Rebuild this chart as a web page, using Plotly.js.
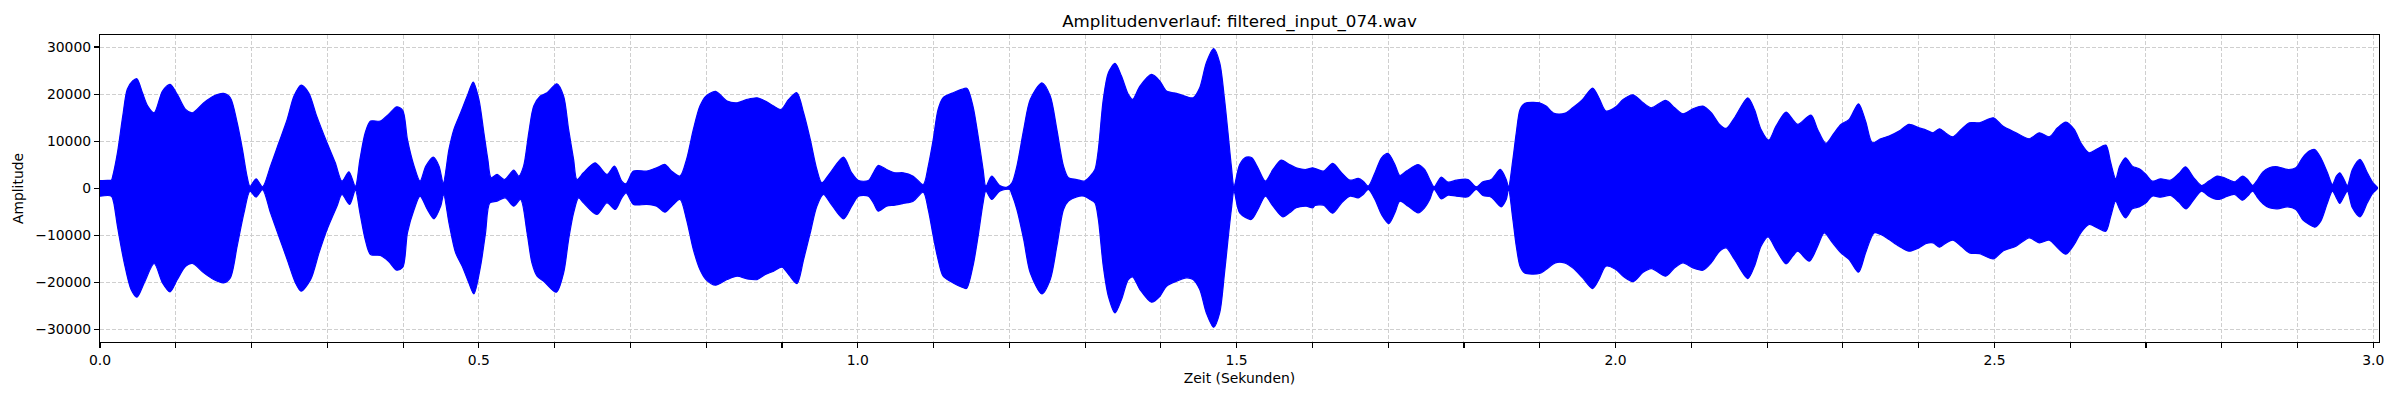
<!DOCTYPE html>
<html>
<head>
<meta charset="utf-8">
<script src="https://cdn.plot.ly/plotly-3.0.1.min.js"></script>
<style>html,body{margin:0;padding:0;background:#fff;}#chart{width:2400px;height:400px;}</style>
</head>
<body>
<div id="chart"></div>
<script>
// Upper envelope of the waveform (seconds, amplitude)
const upperTime = [0.000,0.010,0.015,0.0167,0.023,0.030,0.036,0.043,0.0487,0.056,0.063,0.0715,0.0825,0.0925,0.102,0.113,0.122,0.137,0.150,0.163,0.172,0.181,0.188,0.194,0.198,0.206,0.2145,0.225,0.236,0.247,0.256,0.2654,0.2754,0.286,0.2996,0.3105,0.3193,0.3285,0.337,0.343,0.350,0.357,0.370,0.3807,0.3917,0.3996,0.4057,0.4145,0.4224,0.430,0.440,0.4474,0.453,0.4605,0.467,0.4759,0.4846,0.4925,0.500,0.5066,0.5118,0.5162,0.524,0.5338,0.546,0.5526,0.559,0.5658,0.5724,0.5811,0.590,0.603,0.6118,0.6184,0.625,0.6294,0.638,0.6535,0.6689,0.679,0.6886,0.694,0.704,0.7215,0.7346,0.7456,0.7544,0.7654,0.774,0.783,0.7917,0.7996,0.8123,0.8276,0.8408,0.854,0.867,0.878,0.889,0.8987,0.9088,0.9197,0.9285,0.9373,0.946,0.9526,0.9636,0.9811,0.992,1.0009,1.014,1.0206,1.027,1.038,1.049,1.060,1.0732,1.0864,1.093,1.0996,1.106,1.1127,1.1259,1.1368,1.1443,1.152,1.1588,1.1654,1.169,1.1768,1.1873,1.197,1.2035,1.21,1.219,1.2276,1.243,1.254,1.2627,1.2715,1.278,1.289,1.2987,1.3066,1.313,1.3175,1.324,1.3307,1.3395,1.348,1.357,1.3627,1.3724,1.3877,1.3987,1.4075,1.4206,1.4316,1.4425,1.4513,1.460,1.4697,1.4776,1.484,1.4886,1.493,1.4965,1.504,1.5127,1.520,1.528,1.538,1.548,1.5588,1.5697,1.5785,1.5917,1.6004,1.6145,1.6268,1.6386,1.6496,1.6605,1.667,1.6737,1.6825,1.6912,1.700,1.7088,1.7154,1.724,1.7395,1.748,1.7548,1.7605,1.770,1.779,1.790,1.8053,1.8162,1.825,1.836,1.848,1.8557,1.8588,1.8645,1.869,1.874,1.880,1.8996,1.9083,1.919,1.9325,1.9434,1.9566,1.9697,1.978,1.9873,2.0004,2.010,2.0232,2.0364,2.0474,2.0662,2.078,2.089,2.1022,2.1154,2.1263,2.1373,2.146,2.157,2.1746,2.1833,2.192,2.2022,2.2118,2.225,2.2338,2.2404,2.2579,2.2667,2.2776,2.2886,2.2974,2.3083,2.3206,2.330,2.339,2.350,2.361,2.3741,2.3873,2.4004,2.410,2.419,2.4276,2.4364,2.445,2.4561,2.467,2.4803,2.4987,2.511,2.5285,2.546,2.5592,2.5724,2.5833,2.5943,2.6053,2.614,2.625,2.636,2.647,2.6535,2.660,2.6654,2.673,2.682,2.691,2.700,2.7083,2.7193,2.7325,2.7434,2.7522,2.7632,2.7732,2.783,2.7939,2.8004,2.8057,2.8167,2.8276,2.834,2.8408,2.8474,2.854,2.8627,2.8737,2.8868,2.8978,2.9066,2.9154,2.9228,2.9307,2.9395,2.946,2.9513,2.9557,2.9614,2.9658,2.9724,2.9825,2.9921,2.9996,3.0053];
const upperAmp = [1600,1650,1700,2500,7500,15300,21000,22760,23250,20280,17440,16020,20630,22050,19920,16730,16020,18150,19570,20140,19210,13900,8220,2550,400,1990,300,4680,9640,14600,19570,21900,20280,15300,9640,5390,1490,3470,400,6100,11770,14250,14250,15670,17300,16500,10350,4680,1490,4680,6590,4680,1130,8220,12480,16020,19570,22550,18860,11770,6100,2200,2910,1840,3830,2550,4680,11770,17440,19570,20280,22190,19570,12480,6100,1840,3260,5390,2910,4680,1490,920,3620,3620,4330,5030,3620,2550,6100,12480,17440,19570,20560,18500,18150,18860,19210,18500,17440,16730,18860,20280,16020,10350,3970,1130,3260,6590,3260,1630,1630,3260,4820,3970,3260,3260,2550,780,4680,10350,16730,19210,20280,20990,21200,17440,11060,3970,430,2550,570,210,1130,4680,12480,18860,22400,19570,12480,4680,2200,1840,1490,2550,3970,8220,18860,24530,26520,23820,19920,18860,21700,24180,22760,20630,20140,19570,19210,21340,26660,29640,26660,18860,11770,4680,430,5030,6590,6450,4330,1490,3970,5960,5030,4330,3970,4330,3620,5250,3260,1700,2060,1490,430,3260,6450,7370,5030,2690,3620,5030,3970,1840,280,2340,1280,1700,1840,280,1350,1840,3970,1840,280,6100,11770,16730,18010,18150,17440,15880,15880,17090,18860,21270,19210,16380,17300,18860,19850,18150,17090,18650,17090,15810,16870,17440,16020,13540,12690,14960,19210,16730,12480,10210,13190,16170,14610,13540,15530,12480,9500,11770,13540,14610,17940,14250,9640,10490,11060,12120,13540,12830,12340,11770,12620,11630,10920,12480,13900,13900,14960,13190,11770,10490,11770,10920,12830,14040,12480,9640,7520,8370,9150,5390,1990,4680,6450,4680,4110,2910,1490,1990,1700,3120,4540,2200,570,1490,2550,2340,2060,1350,2550,1840,570,1840,3400,4330,4540,3970,4330,6450,7870,8220,6450,3260,780,2550,3260,1840,570,3970,6100,3260,1130,210];

// Lower envelope of the waveform (seconds, amplitude)
const lowerTime = [0.000,0.015,0.018,0.023,0.032,0.041,0.0487,0.0583,0.0715,0.0825,0.0925,0.102,0.113,0.122,0.137,0.150,0.163,0.172,0.181,0.190,0.198,0.206,0.2145,0.225,0.236,0.247,0.258,0.2654,0.278,0.289,0.2996,0.3127,0.3193,0.3294,0.337,0.343,0.350,0.357,0.370,0.3807,0.3917,0.3996,0.4057,0.4145,0.4224,0.432,0.4408,0.4496,0.4535,0.4605,0.4693,0.478,0.4868,0.4934,0.5022,0.5088,0.5145,0.524,0.5347,0.546,0.555,0.5636,0.570,0.5768,0.5855,0.6022,0.6118,0.6184,0.625,0.6316,0.638,0.6557,0.669,0.680,0.6886,0.6943,0.704,0.7215,0.7346,0.7456,0.7544,0.7654,0.774,0.783,0.7917,0.7996,0.8123,0.8276,0.8408,0.854,0.867,0.878,0.889,0.900,0.9088,0.9197,0.9285,0.9373,0.946,0.9548,0.9636,0.9811,0.992,1.0009,1.014,1.0206,1.027,1.038,1.049,1.060,1.0732,1.0864,1.093,1.0996,1.106,1.1127,1.1259,1.1368,1.1434,1.152,1.1588,1.1654,1.169,1.1768,1.1873,1.2004,1.2035,1.21,1.219,1.2276,1.243,1.254,1.2627,1.2715,1.278,1.289,1.2987,1.3066,1.313,1.3175,1.324,1.3307,1.3395,1.348,1.357,1.3627,1.3724,1.3877,1.3987,1.4075,1.4206,1.4338,1.4425,1.4513,1.460,1.4697,1.4776,1.484,1.4886,1.493,1.4965,1.504,1.5193,1.528,1.538,1.548,1.561,1.5697,1.5785,1.5917,1.6004,1.6035,1.6145,1.6268,1.6386,1.6496,1.6605,1.667,1.6737,1.6825,1.6912,1.7009,1.7088,1.7154,1.7263,1.7395,1.748,1.7548,1.7605,1.770,1.779,1.790,1.8053,1.8162,1.825,1.836,1.849,1.8557,1.8588,1.8645,1.869,1.874,1.880,1.8996,1.9083,1.9206,1.9325,1.9434,1.9566,1.9697,1.978,1.9873,2.0004,2.010,2.0232,2.0364,2.0474,2.0662,2.078,2.089,2.1022,2.1154,2.1263,2.1373,2.146,2.157,2.1746,2.1833,2.192,2.2013,2.2118,2.225,2.2338,2.2404,2.2557,2.2667,2.2754,2.2864,2.2974,2.3083,2.3206,2.330,2.3412,2.350,2.361,2.3741,2.3873,2.4004,2.410,2.419,2.4276,2.4364,2.445,2.4561,2.467,2.4803,2.4987,2.511,2.5285,2.546,2.5592,2.5724,2.5833,2.5943,2.6053,2.614,2.625,2.636,2.647,2.6535,2.660,2.6654,2.673,2.682,2.691,2.700,2.7083,2.7193,2.7325,2.7434,2.753,2.7632,2.7732,2.783,2.7939,2.8004,2.8057,2.8167,2.8276,2.834,2.8408,2.8474,2.854,2.8627,2.8737,2.8868,2.8978,2.9066,2.9154,2.9228,2.9307,2.9395,2.946,2.9513,2.9557,2.9614,2.9658,2.9724,2.9825,2.9921,2.9996,3.0053];
const lowerAmp = [-1700,-1700,-3000,-8080,-15880,-21550,-23180,-20140,-16020,-20140,-22050,-19430,-16590,-16020,-18010,-19430,-20140,-19070,-12340,-5250,-640,-1910,-300,-5250,-10210,-15170,-20140,-21900,-19430,-13750,-8790,-3830,-1350,-3470,-400,-5250,-10920,-14110,-14320,-15530,-17440,-16800,-9500,-4540,-1700,-4540,-6520,-3830,-1350,-7370,-13750,-16590,-20140,-22480,-16590,-9500,-3120,-2770,-2060,-3830,-2410,-9500,-15880,-18720,-19780,-22120,-18010,-10920,-5250,-2060,-3120,-5600,-3120,-4540,-2060,-1000,-3470,-3470,-3830,-5100,-3830,-2410,-6660,-13050,-17300,-19430,-20630,-19430,-18720,-19290,-19430,-18360,-17650,-16800,-18360,-20280,-15170,-9500,-3830,-1350,-3120,-6520,-3830,-1700,-1700,-3120,-4890,-3830,-3620,-3260,-2770,-850,-4540,-10210,-15170,-18720,-20140,-20990,-21340,-16590,-10210,-3120,-640,-2410,-640,-280,-1350,-4540,-10920,-18010,-22480,-19430,-12340,-4540,-2770,-1840,-1700,-2410,-3120,-6660,-16590,-22970,-26520,-23680,-19430,-18860,-21550,-24250,-22970,-20840,-19780,-19070,-19430,-21550,-26520,-29570,-26520,-18010,-10920,-4540,-640,-5250,-6660,-4540,-1700,-3830,-6100,-5250,-4180,-3830,-4180,-3690,-3620,-5320,-3120,-1700,-2060,-1350,-280,-2410,-5600,-7520,-5250,-2770,-3830,-5250,-4180,-2410,-280,-2270,-1490,-1700,-1840,-280,-1560,-1910,-3970,-2410,-280,-6660,-12340,-16590,-18010,-18150,-17300,-15880,-15880,-16940,-19070,-21340,-19430,-16590,-17300,-18720,-19850,-17870,-17090,-18720,-16940,-15880,-16940,-17440,-15880,-13400,-12690,-15170,-19210,-16590,-12340,-10350,-13050,-16090,-14460,-13400,-15530,-12340,-9500,-11630,-13750,-15170,-17870,-13750,-9500,-9850,-10920,-12340,-13400,-12690,-11770,-11630,-12550,-11630,-11060,-12340,-13750,-13900,-15030,-13400,-12340,-10560,-11630,-11060,-12690,-14040,-11980,-9500,-7730,-8440,-9150,-5960,-2770,-4540,-6310,-4400,-3970,-3120,-1700,-1910,-1560,-2980,-4400,-2410,-640,-1700,-2410,-2200,-1840,-1350,-2550,-1700,-640,-2060,-3260,-4180,-4400,-3970,-4540,-6660,-7730,-8290,-7020,-3120,-640,-2060,-3260,-1700,-640,-4180,-6100,-3120,-990,-140];

// Axis ticks
const xTickVals = [0,0.1,0.2,0.3,0.4,0.5,0.6,0.7,0.8,0.9,1.0,1.1,1.2,1.3,1.4,1.5,1.6,1.7,1.8,1.9,2.0,2.1,2.2,2.3,2.4,2.5,2.6,2.7,2.8,2.9,3.0];
const xTickText = ["0.0","","","","","0.5","","","","","1.0","","","","","1.5","","","","","2.0","","","","","2.5","","","","","3.0"];
const yTickVals = [-30000,-20000,-10000,0,10000,20000,30000];
const yTickText = ["\u221230000","\u221220000","\u221210000","0","10000","20000","30000"];

const titleText = "Amplitudenverlauf: filtered_input_074.wav";
const xLabel = "Zeit (Sekunden)";
const yLabel = "Amplitude";

const polyX = upperTime.concat(lowerTime.slice().reverse());
const polyY = upperAmp.concat(lowerAmp.slice().reverse());

const FONT = "DejaVu Sans, Liberation Sans, sans-serif";

const trace = {
  type: "scatter",
  mode: "lines",
  x: polyX,
  y: polyY,
  fill: "toself",
  fillcolor: "#0000ff",
  line: {color: "#0000ff", width: 1.2, shape: "spline", smoothing: 0.8},
  hoverinfo: "skip",
  showlegend: false
};

const axisCommon = {
  showline: true, mirror: true, linecolor: "#000", linewidth: 1.1,
  ticks: "outside", ticklen: 5, tickwidth: 1.1, tickcolor: "#000",
  showgrid: true, gridcolor: "#cfcfcf", gridwidth: 1, griddash: "4px,2px",
  zeroline: false,
  tickfont: {family: FONT, size: 13.9, color: "#000"},
  automargin: false
};

const layout = {
  width: 2400, height: 400,
  margin: {l: 100, r: 21, t: 35, b: 58},
  paper_bgcolor: "#fff", plot_bgcolor: "#fff",
  font: {family: FONT, color: "#000"},
  title: {text: titleText, font: {family: FONT, size: 16.7, color: "#000"},
          x: 0.5, xref: "paper", xanchor: "center", y: 0.948, yref: "container", yanchor: "middle"},
  xaxis: Object.assign({}, axisCommon, {
    range: [0, 3.0075], tickmode: "array", tickvals: xTickVals, ticktext: xTickText,
    title: {text: xLabel, font: {family: FONT, size: 13.9, color: "#000"}, standoff: 6}
  }),
  yaxis: Object.assign({}, axisCommon, {
    range: [-32700, 32550], tickmode: "array", tickvals: yTickVals, ticktext: yTickText,
    title: {text: yLabel, font: {family: FONT, size: 13.9, color: "#000"}, standoff: 8}
  })
};

Plotly.newPlot("chart", [trace], layout, {displayModeBar: false, staticPlot: true});
</script>
</body>
</html>
